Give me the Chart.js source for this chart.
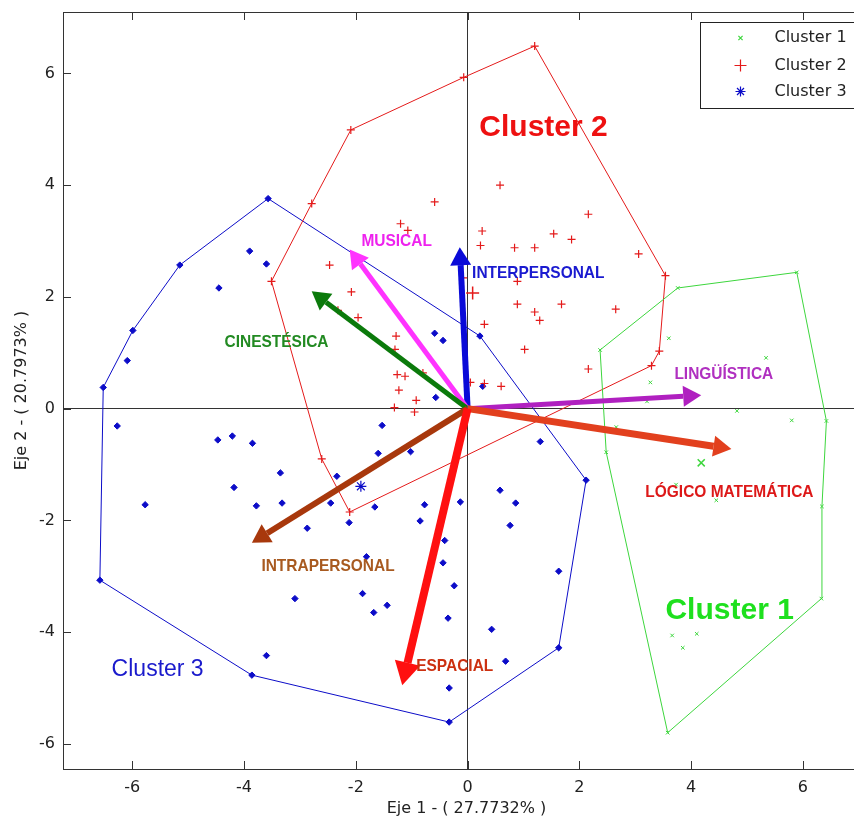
<!DOCTYPE html>
<html>
<head>
  <title>Biplot de clusters</title>
  <script src="https://cdn.jsdelivr.net/npm/chart.js@4/dist/chart.umd.min.js"></script>
  <style>
    body { margin: 0; overflow: hidden; background: #fff; }
    canvas { display: block; }
  </style>
</head>
<body>
  <canvas id="biplot" width="900" height="819"></canvas>
  <script>
    // scores on (Eje 1, Eje 2) for each cluster: hull vertices, other members, centroid
    const cluster1Hull = [[5.89, 2.44], [3.76, 2.16], [2.37, 1.05], [2.48, -0.78], [3.58, -5.80], [6.33, -3.40], [6.34, -1.75], [6.42, -0.22]];
    const cluster1Pts = [[3.60, 1.26], [5.34, 0.91], [3.27, 0.47], [3.21, 0.13], [4.82, -0.04], [5.80, -0.21], [2.66, -0.33],
      [4.45, -1.64], [3.73, -1.36], [3.66, -4.06], [4.10, -4.03], [3.85, -4.28]];
    const cluster1Centre = [4.18, -0.97];

    const cluster2Hull = [[1.20, 6.49], [-0.07, 5.93], [-2.09, 4.99], [-2.79, 3.67], [-3.51, 2.28], [-2.61, -0.90], [-2.11, -1.85],
      [3.29, 0.77], [3.43, 1.03], [3.54, 2.38]];
    const cluster2Pts = [[0.58, 4.00], [-0.59, 3.70], [-1.20, 3.31], [-1.07, 3.19], [0.26, 3.18], [0.23, 2.92], [0.84, 2.88],
      [1.20, 2.88], [1.54, 3.13], [1.86, 3.03], [-2.47, 2.57], [2.16, 3.48], [3.06, 2.77], [1.68, 1.87], [2.65, 1.78],
      [2.16, 0.71], [-2.08, 2.09], [-2.32, 1.76], [-1.96, 1.63], [-1.28, 1.30], [-1.30, 1.06], [-1.26, 0.61], [-1.12, 0.58],
      [-0.80, 0.64], [-1.23, 0.33], [-0.92, 0.15], [-1.31, 0.02], [-0.95, -0.06], [-0.08, 2.34], [0.89, 2.28], [0.89, 1.87],
      [1.20, 1.73], [1.29, 1.58], [0.30, 1.51], [1.02, 1.06], [0.05, 0.47], [0.30, 0.45], [0.60, 0.40]];
    const cluster2Centre = [0.09, 2.07];

    const cluster3Hull = [[-3.57, 3.76], [0.22, 1.30], [2.12, -1.28], [1.63, -4.28], [-0.33, -5.61], [-3.86, -4.77], [-6.58, -3.07],
      [-6.52, 0.38], [-5.99, 1.40], [-5.15, 2.57]];
    const cluster3Pts = [[-3.90, 2.82], [-3.60, 2.59], [-4.45, 2.16], [-6.09, 0.86], [-6.27, -0.31], [-4.47, -0.56], [-4.21, -0.49],
      [-3.85, -0.62], [-3.35, -1.15], [-4.18, -1.41], [-5.77, -1.72], [-3.78, -1.74], [-3.32, -1.69], [-3.09, -3.40],
      [-3.60, -4.42], [-0.59, 1.35], [-0.44, 1.22], [-0.57, 0.20], [0.27, 0.40], [-1.53, -0.30], [-1.60, -0.80],
      [-1.02, -0.77], [1.30, -0.59], [-2.34, -1.21], [-2.45, -1.69], [-1.66, -1.76], [-0.77, -1.72], [-0.13, -1.67],
      [0.58, -1.46], [0.86, -1.69], [0.76, -2.09], [-2.87, -2.14], [-2.12, -2.04], [-0.85, -2.01], [-0.41, -2.36],
      [-0.44, -2.76], [-1.81, -2.65], [-1.88, -3.31], [-1.68, -3.65], [-1.44, -3.52], [-0.24, -3.17], [-0.35, -3.75],
      [0.43, -3.95], [0.68, -4.52], [-0.33, -5.00], [1.63, -2.91]];
    const cluster3Centre = [-1.91, -1.39];

    // variable loadings (arrows) and where their names sit
    const vectorNames = ['INTERPERSONAL', 'MUSICAL', 'CINESTÉSICA', 'LINGÜÍSTICA', 'LÓGICO MATEMÁTICA', 'INTRAPERSONAL', 'ESPACIAL'];
    const vectorX = [-0.14, -2.11, -2.79, 4.18, 4.72, -3.86, -1.17];
    const vectorY = [2.89, 2.85, 2.10, 0.24, -0.72, -2.40, -4.95];
    const vectorLabelX = [0.08, -1.90, -4.35, 3.70, 3.18, -3.69, -0.92];
    const vectorLabelY = [2.34, 2.91, 1.11, 0.535, -1.58, -2.91, -4.70];

    const clusterNames = ['Cluster 1', 'Cluster 2', 'Cluster 3'];
    const clusterLabelX = [3.54, 0.21, -6.37];
    const clusterLabelY = [-3.76, 4.88, -4.79];

    const xTicks = [-6, -4, -2, 0, 2, 4, 6];
    const yTicks = [-6, -4, -2, 0, 2, 4, 6];

    // styling
    const clusterColors = ['#3dd63d', '#e41a1a', '#0c0cc8'];
    const clusterTextColors = ['#1ee01e', '#ee1111', '#1a1acc'];
    const vectorColors = ['#0a0ad8', '#ff33ff', '#0b7a0b', '#b020c0', '#e2401e', '#a8380c', '#ff1010'];
    const vectorTextColors = ['#1a1ad0', '#ee22ee', '#228a22', '#b030c0', '#dd1818', '#a85a20', '#cc3010'];
    const vectorWidths = [6, 5, 5, 5, 7, 6, 8];
    const axisFont = "'DejaVu Sans', sans-serif";

    const toXY = arr => arr.map(p => ({ x: p[0], y: p[1] }));
    const closed = arr => toXY(arr.concat([arr[0]]));

    function hullDataset(hull, color) {
      return {
        type: 'line', data: closed(hull), borderColor: color, borderWidth: 1,
        pointRadius: 0, fill: false, tension: 0, showLine: true
      };
    }

    function pointDataset(label, pts, color, style, radius, width) {
      return {
        label: label, data: toXY(pts), pointStyle: style, pointRadius: radius,
        pointBorderColor: color, pointBackgroundColor: color, pointBorderWidth: width, showLine: false
      };
    }

    function drawArrow(ctx, x0, y0, x1, y1, color, width, headLen, headHalf) {
      const ang = Math.atan2(y1 - y0, x1 - x0);
      const bx = x1 - headLen * Math.cos(ang);
      const by = y1 - headLen * Math.sin(ang);
      ctx.strokeStyle = color;
      ctx.fillStyle = color;
      ctx.lineWidth = width;
      ctx.lineCap = 'butt';
      ctx.beginPath();
      ctx.moveTo(x0, y0);
      ctx.lineTo(bx, by);
      ctx.stroke();
      ctx.beginPath();
      ctx.moveTo(x1, y1);
      ctx.lineTo(bx + headHalf * Math.sin(ang), by - headHalf * Math.cos(ang));
      ctx.lineTo(bx - headHalf * Math.sin(ang), by + headHalf * Math.cos(ang));
      ctx.closePath();
      ctx.fill();
    }

    function drawMarker(ctx, kind, x, y, r, color) {
      ctx.strokeStyle = color;
      ctx.lineWidth = 1.2;
      ctx.beginPath();
      if (kind === 'x' || kind === '*') {
        ctx.moveTo(x - r * 0.7, y - r * 0.7); ctx.lineTo(x + r * 0.7, y + r * 0.7);
        ctx.moveTo(x - r * 0.7, y + r * 0.7); ctx.lineTo(x + r * 0.7, y - r * 0.7);
      }
      if (kind === '+' || kind === '*') {
        ctx.moveTo(x - r, y); ctx.lineTo(x + r, y);
        ctx.moveTo(x, y - r); ctx.lineTo(x, y + r);
      }
      ctx.stroke();
    }

    const biplotExtras = {
      id: 'biplotExtras',
      afterDatasetsDraw(chart) {
        const ctx = chart.ctx;
        const xs = chart.scales.x, ys = chart.scales.y;
        const ox = xs.getPixelForValue(0), oy = ys.getPixelForValue(0);
        ctx.save();
        vectorNames.forEach((name, i) => {
          const big = vectorWidths[i] >= 8;
          drawArrow(ctx, ox, oy, xs.getPixelForValue(vectorX[i]), ys.getPixelForValue(vectorY[i]),
            vectorColors[i], vectorWidths[i], big ? 23 : 18, big ? 13 : 10.5);
        });
        // loading names, a little condensed
        ctx.font = "bold 17px 'Liberation Sans', Arial, sans-serif";
        ctx.textBaseline = 'alphabetic';
        ctx.textAlign = 'left';
        vectorNames.forEach((name, i) => {
          ctx.save();
          ctx.translate(xs.getPixelForValue(vectorLabelX[i]), ys.getPixelForValue(vectorLabelY[i]));
          ctx.scale(0.91, 1);
          ctx.fillStyle = vectorTextColors[i];
          ctx.fillText(name, 0, 0);
          ctx.restore();
        });
        // cluster names
        clusterNames.forEach((name, i) => {
          ctx.font = i === 2 ? "23px 'Liberation Sans', Arial, sans-serif" : "bold 30px 'Liberation Sans', Arial, sans-serif";
          ctx.fillStyle = clusterTextColors[i];
          ctx.fillText(name, xs.getPixelForValue(clusterLabelX[i]), ys.getPixelForValue(clusterLabelY[i]));
        });
        ctx.restore();
      },
      afterDraw(chart) {
        const ctx = chart.ctx;
        const a = chart.chartArea;
        const xs = chart.scales.x, ys = chart.scales.y;
        ctx.save();
        ctx.strokeStyle = '#333';
        ctx.lineWidth = 1;
        ctx.strokeRect(Math.round(a.left) + 0.5, Math.round(a.top) + 0.5, Math.round(a.right - a.left), Math.round(a.bottom - a.top));
        // inward tick marks on all four sides
        ctx.beginPath();
        xTicks.forEach(v => {
          const px = Math.round(xs.getPixelForValue(v)) + 0.5;
          ctx.moveTo(px, a.bottom); ctx.lineTo(px, a.bottom - 8);
          ctx.moveTo(px, a.top); ctx.lineTo(px, a.top + 8);
        });
        yTicks.forEach(v => {
          const py = Math.round(ys.getPixelForValue(v)) + 0.5;
          ctx.moveTo(a.left, py); ctx.lineTo(a.left + 8, py);
          ctx.moveTo(a.right, py); ctx.lineTo(a.right - 8, py);
        });
        ctx.stroke();

        // legend box in the upper right corner
        const bx = Math.round(a.right - 170) + 0.5, by = Math.round(a.top + 10) + 0.5;
        ctx.fillStyle = '#fff';
        ctx.fillRect(bx, by, 160, 86);
        ctx.strokeStyle = '#222';
        ctx.strokeRect(bx, by, 160, 86);
        const kinds = ['x', '+', '*'];
        const sizes = [3, 6, 5];
        const rows = [15.5, 43, 69];
        ctx.font = '16px ' + axisFont;
        ctx.textBaseline = 'middle';
        ctx.textAlign = 'left';
        clusterNames.forEach((name, i) => {
          drawMarker(ctx, kinds[i], bx + 40, by + rows[i], sizes[i], clusterColors[i]);
          ctx.fillStyle = '#222';
          ctx.fillText(name, bx + 74, by + rows[i]);
        });
        ctx.restore();
      }
    };

    const datasets = [
      pointDataset('Cluster 1', cluster1Hull.concat(cluster1Pts), clusterColors[0], 'crossRot', 2.5, 1),
      pointDataset('Cluster 2', cluster2Hull.concat(cluster2Pts), clusterColors[1], 'cross', 4, 1.2),
      pointDataset('Cluster 3', cluster3Hull.concat(cluster3Pts), clusterColors[2], 'rectRot', 3.2, 1),
      pointDataset('Centro 1', [cluster1Centre], clusterColors[0], 'crossRot', 5, 1.5),
      pointDataset('Centro 2', [cluster2Centre], clusterColors[1], 'cross', 6.5, 1.5),
      pointDataset('Centro 3', [cluster3Centre], clusterColors[2], 'star', 5.5, 1.2),
      hullDataset(cluster1Hull, clusterColors[0]),
      hullDataset(cluster2Hull, clusterColors[1]),
      hullDataset(cluster3Hull, clusterColors[2])
    ];

    const gridZeroOnly = c => (c.tick && c.tick.value === 0 ? '#333' : 'rgba(0,0,0,0)');

    new Chart(document.getElementById('biplot').getContext('2d'), {
      type: 'scatter',
      data: { datasets: datasets },
      options: {
        responsive: false,
        animation: false,
        layout: { padding: { top: 12, right: 30, left: 0, bottom: 0 } },
        plugins: { legend: { display: false }, tooltip: { enabled: false } },
        scales: {
          x: {
            type: 'linear', min: -7.24, max: 7.2,
            afterFit: s => { s.height = 50; s.paddingLeft = 0; s.paddingRight = 0; },
            afterBuildTicks: s => { s.ticks = xTicks.map(v => ({ value: v })); },
            ticks: { includeBounds: false, padding: 9, color: '#222', font: { family: axisFont, size: 16 } },
            grid: { color: gridZeroOnly, drawTicks: false },
            border: { display: false },
            title: {
              display: true, text: 'Eje 1 - ( 27.7732% )', color: '#222',
              font: { family: axisFont, size: 16 }, padding: { top: 0, bottom: 1 }
            }
          },
          y: {
            type: 'linear', min: -6.45, max: 7.1,
            afterFit: s => { s.width = 63; s.paddingTop = 0; s.paddingBottom = 0; },
            afterBuildTicks: s => { s.ticks = yTicks.map(v => ({ value: v })); },
            ticks: { includeBounds: false, padding: 8, color: '#222', font: { family: axisFont, size: 16 } },
            grid: { color: gridZeroOnly, drawTicks: false },
            border: { display: false },
            title: {
              display: true, text: 'Eje 2 - ( 20.7973% )', color: '#222',
              font: { family: axisFont, size: 16 }, padding: { top: 12, bottom: 0 }
            }
          }
        }
      },
      plugins: [biplotExtras]
    });
  </script>
</body>
</html>
